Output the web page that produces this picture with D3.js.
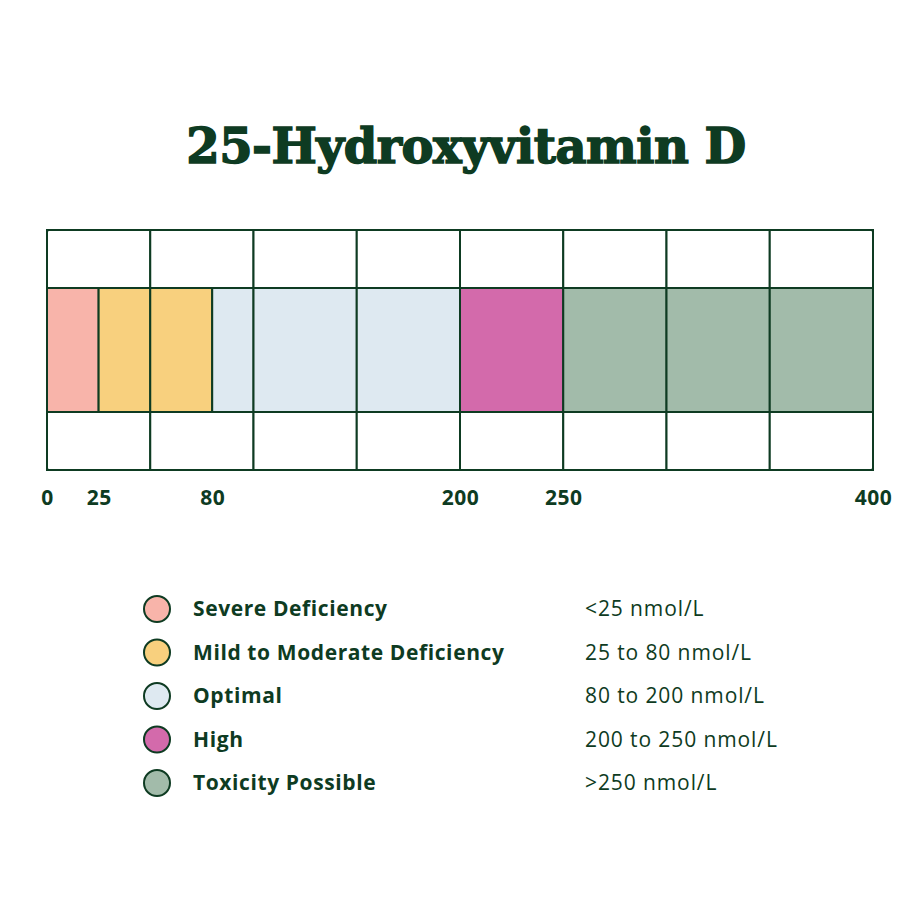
<!DOCTYPE html>
<html><head><meta charset="utf-8">
<script src="https://cdn.jsdelivr.net/npm/d3@7"></script>
<style>body{margin:0;background:#fff}</style></head>
<body><svg id="c" width="920" height="920"></svg>
<script>
const title = "25-Hydroxyvitamin D";
const bandStarts = [0, 25, 80, 200, 250];
const bandEnds = [25, 80, 200, 250, 400];
const categories = ["Severe Deficiency","Mild to Moderate Deficiency","Optimal","High","Toxicity Possible"];
const ranges = ["<25 nmol/L","25 to 80 nmol/L","80 to 200 nmol/L","200 to 250 nmol/L",">250 nmol/L"];
const colors = ["#F8B4AA","#F8D07E","#DEE9F1","#D36AAB","#A2BBAA"];
const gridTicks = [0,50,100,150,200,250,300,350,400];
const tickLabels = [0,25,80,200,250,400];
const dark = "#0E3B22";

const svg = d3.select("#c");
const x = d3.scaleLinear().domain([0,400]).range([47,873]);
const y0=230,y1=288,y2=412,y3=470;

svg.append("text").attr("x",466).attr("y",163).attr("text-anchor","middle")
  .attr("font-family","DejaVu Serif").attr("font-weight","bold").attr("font-size",48)
  .attr("fill",dark).attr("letter-spacing",-0.5).attr("stroke",dark).attr("stroke-width",1.5).text(title);

const cuts = Array.from(new Set([...gridTicks,...bandStarts])).sort((a,b)=>a-b);
for(let i=0;i<cuts.length-1;i++){
  const a=cuts[i],b=cuts[i+1];
  const bi=bandStarts.findIndex((s,j)=>a>=s&&a<bandEnds[j]);
  svg.append("rect").attr("x",x(a)).attr("y",y1).attr("width",x(b)-x(a)).attr("height",y2-y1)
    .attr("fill",colors[bi]).attr("stroke",dark).attr("stroke-width",2);
}
for(let i=0;i<gridTicks.length-1;i++){
  [[y0,y1],[y2,y3]].forEach(([t,b])=>{
    svg.append("rect").attr("x",x(gridTicks[i])).attr("y",t).attr("width",x(gridTicks[i+1])-x(gridTicks[i])).attr("height",b-t)
      .attr("fill","#fff").attr("stroke",dark).attr("stroke-width",2);
  });
}
svg.append("rect").attr("x",x(0)).attr("y",y0).attr("width",x(400)-x(0)).attr("height",y3-y0)
  .attr("fill","none").attr("stroke",dark).attr("stroke-width",2).attr("rx",2);

const axis = d3.axisBottom(x).tickValues(tickLabels).tickSize(0).tickPadding(0);
const g = svg.append("g").attr("transform",`translate(0,${y3+20})`).call(axis);
g.select(".domain").remove();
g.selectAll("text").attr("font-family","Open Sans").attr("font-weight","bold").attr("font-size",21).attr("letter-spacing",0.5).attr("fill",dark);

const ly = d3.scalePoint().domain(categories).range([609,783]);
categories.forEach((c,i)=>{
  svg.append("circle").attr("cx",157).attr("cy",ly(c)).attr("r",13).attr("fill",colors[i]).attr("stroke",dark).attr("stroke-width",2);
  svg.append("text").attr("x",193).attr("y",ly(c)+7).attr("font-family","Open Sans").attr("font-weight","bold").attr("font-size",21).attr("letter-spacing",0.6).attr("fill",dark).text(c);
  svg.append("text").attr("x",585).attr("y",ly(c)+7).attr("font-family","Open Sans").attr("font-size",21).attr("letter-spacing",0.9).attr("fill",dark).text(ranges[i]);
});
</script></body></html>
